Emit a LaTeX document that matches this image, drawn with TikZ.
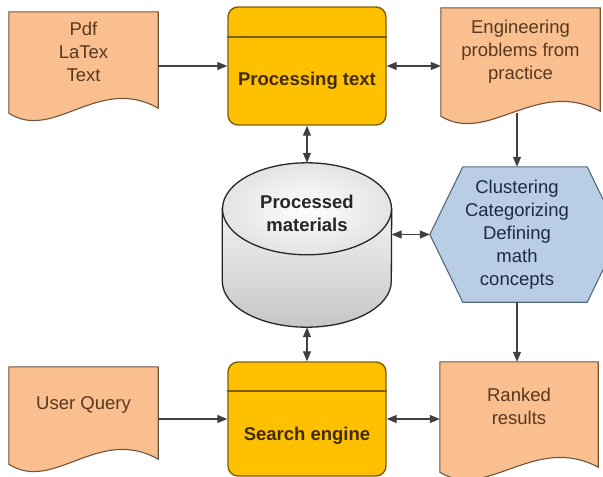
\documentclass[tikz,border=0pt]{standalone}
\usepackage{fontspec}
\setmainfont{Liberation Sans}
\usetikzlibrary{arrows.meta,calc,backgrounds}

\definecolor{docfill}{RGB}{250,191,143}
\definecolor{docline}{RGB}{112,84,62}
\definecolor{doctext}{RGB}{88,56,30}
\definecolor{boxfill}{RGB}{255,192,0}
\definecolor{boxline}{RGB}{127,96,0}
\definecolor{boxtext}{RGB}{64,44,0}
\definecolor{hexfill}{RGB}{185,205,229}
\definecolor{hexline}{RGB}{84,104,132}
\definecolor{hextext}{RGB}{31,42,68}
\definecolor{flowline}{RGB}{64,64,64}

\tikzset{
  doc/.style={rectangle, inner sep=0, minimum width=149, minimum height=80, align=center, text=doctext},
  docshape/.style={fill=docfill, draw=docline, line width=1.1pt},
  procbox/.style={rectangle, rounded corners=10pt, fill=boxfill, draw=boxline, line width=1.4pt, minimum width=158},
  boxlabel/.style={font=\fontsize{18.5}{23}\selectfont\bfseries, text=boxtext, inner sep=0},
  hexnode/.style={rectangle, inner sep=0, minimum width=174, minimum height=135, align=center, text=hextext},
  hexshape/.style={fill=hexfill, draw=hexline, line width=1.1pt},
  flow/.style={draw=flowline, line width=1.1pt, ->},
  flowboth/.style={flow, <->}
}

\begin{document}
\begin{tikzpicture}[x=1pt,y=-1pt,font=\fontsize{18.5}{23}\selectfont,
    >={Triangle[length=10pt,width=8pt]}]
  \useasboundingbox (0,0) rectangle (603,477);

  % Documents
  \node[doc] (src) at (83.5,52) {Pdf\\LaTex\\Text};
  \node[doc, minimum width=159, minimum height=87] (eng) at (520.5,51.5) {Engineering\\problems from\\practice};
  \node[doc, minimum height=76] (query) at (83.5,405) {User Query};
  \node[doc, minimum width=158, minimum height=89] (ranked) at (519,406.5) {Ranked\\results};

  % Yellow boxes
  \node[procbox, minimum height=118] (proc) at (307,66) {};
  \draw[boxline, line width=2pt] ([yshift=-31pt]proc.north west) -- ([yshift=-31pt]proc.north east);
  \node[boxlabel] (proclabel) at (307,81) {Processing text};
  \node[procbox, minimum height=114] (search) at (307,419) {};
  \draw[boxline, line width=2pt] ([yshift=-30pt]search.north west) -- ([yshift=-30pt]search.north east);
  \node[boxlabel] (searchlabel) at (307,436) {Search engine};

  % Database and hexagon
  \node[inner sep=0, minimum width=169, minimum height=164] (mat) at (307,245) {};
  \node[hexnode] (hex) at (517,234.5) {Clustering\\Categorizing\\Defining\\math\\concepts};

  \begin{scope}[on background layer]
    \fill[white] (0,0) rectangle (603,477);
    % document outlines with wavy bottom
    \foreach \n in {src,eng,query,ranked}
      \draw[docshape] (\n.north west) -- (\n.north east) -- ($(\n.south east)+(0,16)$)
        .. controls ($(\n.south west)!0.6!(\n.south east)+(0,-18)$) and ($(\n.south west)!0.3!(\n.south east)+(0,50)$)
        .. ($(\n.south west)+(0,21)$) -- cycle;
    % cylinder
    \draw[line width=1.3pt, draw=black!85, top color=gray!10, bottom color=gray!45]
      ($(mat.north west)+(0,46)$) -- ($(mat.south west)+(0,-46)$)
      arc[start angle=180, end angle=360, x radius=84.5pt, y radius=46pt]
      -- ($(mat.north east)+(0,46)$) -- cycle;
    \draw[line width=1.3pt, draw=black!85, inner color=white, outer color=gray!22]
      ($(mat.north)+(0,46)$) ellipse [x radius=84.5pt, y radius=46pt];
    % hexagon
    \draw[hexshape] (hex.west) -- ($(hex.north west)+(33,0)$) -- ($(hex.north east)+(-17,0)$)
      -- ($(hex.east)+(16,0)$) -- ($(hex.south east)+(-17,0)$) -- ($(hex.south west)+(33,0)$) -- cycle;
  \end{scope}
  \node[font=\fontsize{18.5}{23}\selectfont\bfseries, text=black!85, align=center] (matlabel) at (307,213) {Processed\\materials};

  % Connectors
  \draw[flow] (src.east |- proc.west) -- (proc.west);
  \draw[flowboth] (proc.east) -- (proc.east -| eng.west);
  \draw[flowboth] (proc.south) -- (mat.north);
  \draw[flow] (eng.south -| hex.north) ++(0,18) -- (hex.north);
  \draw[flowboth] (mat.east |- hex.west) -- (hex.west);
  \draw[flowboth] (mat.south) -- (search.north);
  \draw[flow] (hex.south) -- (hex.south |- ranked.north);
  \draw[flow] (query.east |- search.west) -- (search.west);
  \draw[flowboth] (search.east) -- (search.east -| ranked.west);
\end{tikzpicture}
\end{document}
